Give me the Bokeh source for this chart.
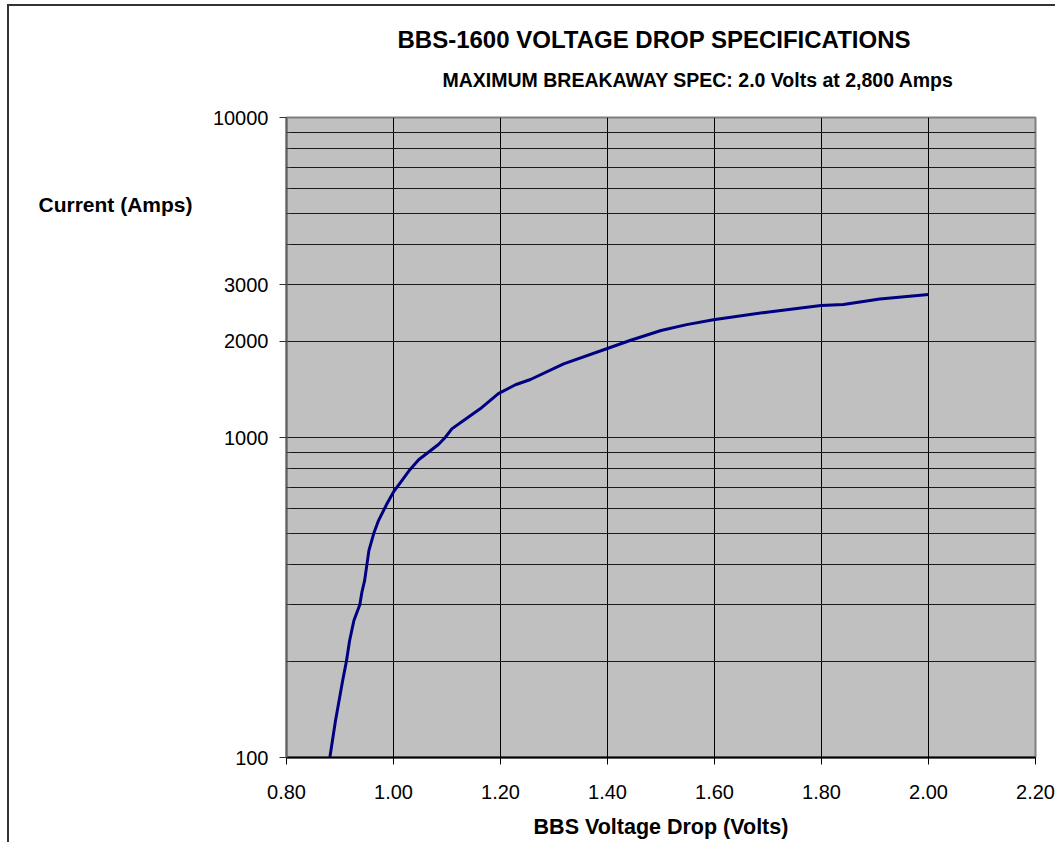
from bokeh.plotting import figure
from bokeh.models import Range1d, FixedTicker, Label, PrintfTickFormatter, Title
from bokeh.embed import file_html
from bokeh.resources import INLINE

# Data
voltage = [0.881, 0.8915, 0.905, 0.912, 0.918, 0.926, 0.937, 0.941, 0.946, 0.954,
           0.963, 0.972, 0.988, 1.000, 1.016, 1.031, 1.047, 1.084, 1.097, 1.109,
           1.131, 1.162, 1.196, 1.228, 1.256, 1.318, 1.401, 1.442, 1.500, 1.548,
           1.598, 1.698, 1.799, 1.841, 1.909, 2.000]
current = [100, 130, 174, 200, 232, 268, 300, 329, 357, 443,
           501, 550, 622, 676, 735, 795, 852, 951, 1002, 1064,
           1130, 1229, 1371, 1462, 1518, 1699, 1901, 2010, 2159, 2253,
           2332, 2464, 2585, 2605, 2711, 2800]

x_ticks = [0.8, 1.0, 1.2, 1.4, 1.6, 1.8, 2.0, 2.2]
y_ticks = [100, 1000, 2000, 3000, 10000]
y_minor = [200, 300, 400, 500, 600, 700, 800, 900, 4000, 5000, 6000, 7000, 8000, 9000]
y_tick_labels = {100: "100", 1000: "1000", 2000: "2000", 3000: "3000", 10000: "10000"}

title_text = "BBS-1600 VOLTAGE DROP SPECIFICATIONS"
subtitle_text = "MAXIMUM BREAKAWAY SPEC: 2.0 Volts at 2,800 Amps"
x_label = "BBS Voltage Drop (Volts)"
y_label = "Current (Amps)"

FONT = "Liberation Sans"

p = figure(width=1055, height=842, y_axis_type="log",
           x_range=Range1d(0.8, 2.2), y_range=Range1d(100, 10000),
           output_backend="svg", toolbar_location=None,
           min_border_left=286, min_border_right=20,
           min_border_top=117, min_border_bottom=85)
# chart-area border (left and top edges visible in the reference)
p.styles = {
    "background-image": "linear-gradient(#333333, #333333), linear-gradient(#333333, #333333)",
    "background-repeat": "no-repeat",
    "background-position": "7px 4px, 7px 4px",
    "background-size": "2px 100%, 100% 2px",
}

p.background_fill_color = "#c0c0c0"
p.border_fill_color = None
p.outline_line_color = "#808080"
p.outline_line_width = 2

p.line(voltage, current, line_color="#000080", line_width=3)

# x axis
p.xaxis.ticker = FixedTicker(ticks=x_ticks)
p.xaxis.formatter = PrintfTickFormatter(format="%.2f")
p.xaxis.axis_line_color = "black"
p.xaxis.axis_line_width = 2
p.xaxis.major_tick_line_color = "black"
p.xaxis.major_tick_out = 7
p.xaxis.major_tick_in = 0
p.xaxis.minor_tick_line_color = None
p.xaxis.major_label_text_font = FONT
p.xaxis.major_label_text_font_size = "20px"
p.xaxis.major_label_text_color = "black"
p.xaxis.major_label_standoff = 20
p.xaxis.axis_label = x_label
p.xaxis.axis_label_text_font = FONT
p.xaxis.axis_label_text_font_size = "21.5px"
p.xaxis.axis_label_text_font_style = "bold"
p.xaxis.axis_label_text_color = "black"
p.xaxis.axis_label_standoff = 13

# y axis
p.yaxis.ticker = FixedTicker(ticks=y_ticks, minor_ticks=y_minor)
p.yaxis.major_label_overrides = y_tick_labels
p.yaxis.axis_line_color = "#606060"
p.yaxis.axis_line_width = 2
p.yaxis.major_tick_line_color = "#333333"
p.yaxis.major_tick_out = 7
p.yaxis.major_tick_in = 0
p.yaxis.minor_tick_line_color = "#333333"
p.yaxis.minor_tick_out = 0
p.yaxis.minor_tick_in = 4
p.yaxis.major_label_text_font = FONT
p.yaxis.major_label_text_font_size = "20px"
p.yaxis.major_label_text_color = "black"
p.yaxis.major_label_standoff = 11

# grids
p.xgrid.grid_line_color = "black"
p.xgrid.grid_line_width = 1
p.ygrid.grid_line_color = "#1a1a1a"
p.ygrid.grid_line_width = 1
p.ygrid.minor_grid_line_color = "#1a1a1a"
p.ygrid.minor_grid_line_width = 1

# titles (later added = further from the frame)
p.add_layout(Title(text=subtitle_text, align="left", offset=156, standoff=54,
                   text_font=FONT, text_font_style="bold", text_font_size="19.5px",
                   text_color="black"), "above")
p.add_layout(Title(text=title_text, align="left", offset=111, standoff=-26,
                   text_font=FONT, text_font_style="bold", text_font_size="24px",
                   text_color="black"), "above")

# y-axis title placed in the left side panel
p.add_layout(Label(x=-17, y=553, x_units="screen", y_units="screen", text=y_label,
                   text_font=FONT, text_font_style="bold", text_font_size="21px",
                   text_align="left", text_baseline="alphabetic", text_color="black"), "left")

open("out.html", "w").write(file_html(p, INLINE))
